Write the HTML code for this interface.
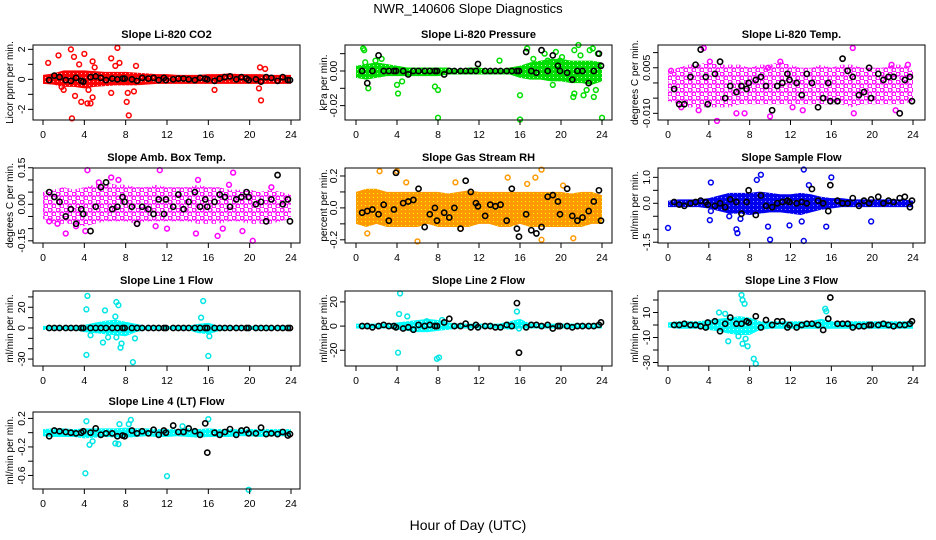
<!DOCTYPE html>
<html><head><meta charset="utf-8"><style>
html,body{margin:0;padding:0;background:#fff;width:936px;height:540px;overflow:hidden}
svg{display:block;font-family:"Liberation Sans",sans-serif}
</style></head><body>
<svg id="chart" width="936" height="540" viewBox="0 0 936 540" xmlns="http://www.w3.org/2000/svg">
<text x="468" y="13" text-anchor="middle" font-size="13">NWR_140606  Slope Diagnostics</text>
<text x="468" y="530" text-anchor="middle" font-size="14">Hour of Day (UTC)</text>
</svg>
<script>
const hours=[0,1,2,3,4,5,6,7,8,9,10,11,12,13,14,15,16,17,18,19,20,21,22,23,24];
const xTicks=[0,4,8,12,16,20,24];
const blackTimes=[0.6,1.1,1.6,2.2,2.7,3.2,3.7,3.9,4.6,5.1,5.6,6.1,6.7,7.2,7.7,7.9,8.6,9.1,9.6,10.2,10.7,11.2,11.7,11.9,12.6,13.1,13.6,14.1,14.7,15.2,15.7,15.9,16.6,17.1,17.6,18.1,18.7,19.2,19.7,19.9,20.6,21.1,21.6,22.1,22.7,23.2,23.7,23.9];

const co2Up=[0.3,0.4,0.6,0.6,0.6,0.55,0.5,0.5,0.5,0.45,0.4,0.35,0.35,0.3,0.3,0.3,0.35,0.35,0.4,0.35,0.35,0.35,0.3,0.3,0.3];
const co2Lo=[-0.3,-0.35,-0.5,-0.5,-0.6,-0.5,-0.45,-0.4,-0.4,-0.4,-0.35,-0.3,-0.3,-0.3,-0.3,-0.3,-0.3,-0.3,-0.3,-0.3,-0.3,-0.3,-0.3,-0.3,-0.3];
const co2OutX=[0.5,1.5,2.7,2.8,3.0,3.1,3.5,4.0,3.7,4.3,4.6,4.8,4.8,4.4,6.6,6.6,7.2,7.4,8.1,8.3,8.2,8.8,9.0,7.0,5.0,16.6,20.9,21.1,21.0,21.5,2.0,1.8];
const co2OutY=[1.1,1.6,2.0,-2.6,1.5,-1.1,1.0,1.7,-1.5,-1.6,-1.6,1.2,-1.2,-0.7,1.4,-0.9,2.1,1.1,-1.5,-2.4,-0.9,-0.8,0.9,0.9,0.8,-0.7,-0.6,-1.4,0.8,0.7,-0.7,-0.5];
const co2Black=[-0.05,0.25,0.15,-0.05,-0.1,0.1,-0.1,-0.15,0.15,0.2,0.1,-0.05,0.05,0.0,0.05,0.05,0.0,-0.1,0.1,0.05,0.1,-0.05,0.1,-0.05,0.0,0.05,0.05,0.0,-0.05,0.1,0.05,0.0,-0.1,0.05,0.15,0.2,0.0,0.15,0.05,-0.05,0.0,-0.15,0.15,0.1,-0.1,0.15,-0.05,-0.05];

const presUp=[0.003,0.004,0.005,0.004,0.003,0.002,0.002,0.002,0.002,0.002,0.001,0.002,0.002,0.001,0.001,0.002,0.003,0.005,0.006,0.007,0.007,0.006,0.006,0.006,0.005];
const presLo=[-0.004,-0.005,-0.004,-0.003,-0.003,-0.003,-0.003,-0.003,-0.003,-0.002,-0.002,-0.002,-0.002,-0.002,-0.002,-0.002,-0.004,-0.005,-0.005,-0.006,-0.006,-0.007,-0.007,-0.008,-0.006];
const presOutX=[0.7,0.8,0.9,1.2,1.9,2.5,4.0,4.1,4.5,8.0,7.7,8.0,14,16,16,16.7,17.3,18.7,19.5,19.9,21.2,21.3,21.3,21.7,21.9,22.2,22.5,22.8,23.1,23.2,23.4,23.6,24,19.2,20.1,18.4];
const presOutY=[0.013,0.012,0.005,-0.01,0.006,0.007,-0.008,-0.013,-0.006,-0.027,-0.009,-0.011,0.006,-0.014,-0.028,0.013,0.007,0.006,0.011,0.006,-0.015,-0.013,0.012,0.015,0.009,-0.014,-0.011,0.012,0.013,-0.015,-0.011,0.01,-0.027,-0.008,0.008,0.01];
const presBlack=[0,-0.007,0,0.009,0,0,0,0,0,-0.002,0,0,0,0,0,0,-0.002,0,0,0,0,0,0,0.004,0,0,0,0,0,0,0,0,0.011,0,-0.001,0.012,0,0.009,0.003,0,-0.001,-0.005,0,0,-0.007,0,0.010,0.003];

const tempUp=[0.004,0.005,0.006,0.006,0.007,0.006,0.006,0.006,0.005,0.006,0.006,0.007,0.006,0.005,0.005,0.006,0.005,0.006,0.006,0.005,0.005,0.005,0.006,0.006,0.004];
const tempLo=[-0.006,-0.007,-0.008,-0.008,-0.008,-0.008,-0.008,-0.007,-0.007,-0.007,-0.007,-0.007,-0.007,-0.007,-0.007,-0.007,-0.007,-0.007,-0.008,-0.007,-0.007,-0.007,-0.007,-0.007,-0.006];
const tempOutX=[3.5,4.8,9.8,10.0,11.0,18.1,18.2,6.7,7.5,3.0,12.2,13.2,22.3,21.9,0.3,23.5,4.1,1.3];
const tempOutY=[0.0115,-0.0125,0.005,-0.011,0.007,0.0115,-0.010,-0.010,-0.010,-0.009,-0.008,-0.009,-0.009,0.006,0.004,0.006,0.007,-0.008];
const tempBlack=[-0.002,-0.007,-0.007,0.002,0.006,0.011,0.002,-0.007,0.003,0.007,-0.005,-0.001,-0.003,-0.001,-0.002,0.0,0.001,0.002,-0.001,-0.009,-0.001,0.0,0.003,0.001,0.0,-0.004,0.003,0.0,-0.008,-0.005,0.0,-0.006,-0.006,0.008,0.004,0.002,-0.004,-0.003,0.005,-0.005,0.003,0.001,0.002,0.002,-0.010,0.001,0.002,-0.006];

const ambUp=[0.05,0.06,0.07,0.06,0.07,0.08,0.09,0.08,0.08,0.07,0.07,0.08,0.07,0.07,0.07,0.08,0.07,0.07,0.06,0.06,0.06,0.05,0.06,0.05,0.04];
const ambLo=[-0.06,-0.08,-0.08,-0.08,-0.09,-0.08,-0.07,-0.07,-0.07,-0.08,-0.07,-0.07,-0.07,-0.07,-0.07,-0.08,-0.08,-0.08,-0.07,-0.07,-0.08,-0.08,-0.08,-0.07,-0.06];
const ambOutX=[4.3,11.3,18.4,20.3,2.2,4.1,14.8,16.9,17.4,19.3,9.1,10.9,12.0,6.6,5.4,7.3,15.0,18.0,22.1,1.4,3.2,0.6];
const ambOutY=[0.14,0.14,0.13,-0.15,-0.12,-0.11,-0.12,-0.13,-0.1,-0.11,-0.08,-0.09,-0.1,0.11,0.09,0.1,0.1,0.08,0.07,-0.08,-0.09,-0.07];
const ambBlack=[0.05,0.03,0.01,-0.05,-0.02,-0.08,-0.02,-0.04,-0.11,-0.01,0.07,0.09,-0.02,-0.01,0.03,0.01,-0.01,-0.08,-0.01,-0.02,-0.04,0.02,-0.04,0.02,-0.01,0.04,-0.02,0.01,0.05,-0.01,0.02,-0.01,0.01,0.04,0.03,-0.01,0.02,0.03,0.05,0.03,0.0,0.01,-0.07,0.02,0.12,0.0,0.02,-0.07];

const rhUp=[0.1,0.12,0.12,0.1,0.1,0.1,0.1,0.1,0.1,0.09,0.1,0.11,0.1,0.1,0.1,0.1,0.1,0.1,0.1,0.1,0.1,0.09,0.1,0.1,0.08];
const rhLo=[-0.1,-0.12,-0.1,-0.12,-0.12,-0.12,-0.12,-0.1,-0.12,-0.12,-0.12,-0.12,-0.1,-0.1,-0.12,-0.12,-0.1,-0.12,-0.12,-0.12,-0.12,-0.12,-0.12,-0.1,-0.1];
const rhOutX=[2.3,4.0,6.0,1.1,14.8,17.5,18.1,16.7,9.7,10.2,18.1,21.2,20.2,4.9];
const rhOutY=[0.23,0.23,-0.21,-0.16,0.19,0.19,0.24,0.15,0.16,-0.13,-0.2,-0.19,0.14,0.16];
const rhBlack=[-0.03,-0.02,-0.01,-0.04,0.02,-0.08,-0.01,0.22,0.03,0.04,0.05,0.12,-0.12,-0.04,0.0,-0.08,-0.03,-0.06,0.0,-0.13,0.17,0.1,0.03,0.01,-0.05,0.02,0.01,0.02,-0.08,0.12,-0.13,-0.18,-0.04,-0.14,-0.16,-0.12,0.07,0.08,0.04,-0.04,0.12,-0.05,-0.08,-0.06,-0.02,0.04,0.11,-0.08];

const sfUp=[0.1,0.15,0.15,0.15,0.2,0.3,0.4,0.4,0.4,0.45,0.4,0.35,0.35,0.4,0.35,0.25,0.2,0.2,0.15,0.15,0.15,0.15,0.15,0.15,0.1];
const sfLo=[-0.15,-0.15,-0.15,-0.15,-0.2,-0.3,-0.4,-0.4,-0.45,-0.4,-0.35,-0.35,-0.4,-0.45,-0.35,-0.25,-0.2,-0.15,-0.15,-0.15,-0.15,-0.15,-0.15,-0.15,-0.15];
const sfOutX=[0.0,4.1,4.2,6.8,6.7,8.7,9.1,9.8,10.0,11.9,13.3,13.3,13.8,15.5,16.0,19.9,4.2,6.0,7.1,13.1];
const sfOutY=[-0.95,-0.65,0.8,-1.15,-1.0,0.9,1.1,-0.9,-1.4,-0.85,1.3,-1.45,0.7,-0.9,1.0,-0.7,-0.3,-0.5,-0.6,-0.7];
const sfBlack=[0.05,-0.05,-0.1,0.0,0.05,0.1,0.05,-0.05,-0.1,0.0,-0.15,0.15,0.05,-0.4,0.05,0.5,-0.45,0.3,-0.1,-0.15,0.0,0.05,0.1,0.05,0.0,0.05,0.0,0.55,0.1,0.0,-0.3,0.7,0.1,0.0,0.0,0.2,-0.1,0.1,0.0,0.15,0.25,0.0,0.1,0.05,0.2,0.25,-0.15,0.1];

const l1Up=[2,2,2,2,3,5,7,8,6,4,2,2,2,2,2,4,5,2,2,2,2,2,2,2,2];
const l1Lo=[-2,-2,-2,-2,-4,-5,-6,-7,-8,-4,-2,-2,-2,-2,-2,-5,-6,-3,-2,-2,-2,-2,-2,-2,-2];
const l1OutX=[4.3,4.2,4.2,4.6,5.8,6.0,7.1,7.3,7.1,6.3,7.5,7.6,8.7,8.9,15.5,16.0,16.1,15.3,7.0];
const l1OutY=[31,18,-26,-7,-14,17,25,22,-9,-9,-19,-15,-33,-10,26,-27,-8,10,11];
const l1Black=[0,0,0,0,0,0,0,0,0,0,0,0,0,0,0,0,0,0,0,0,0,0,0,0,0,0,0,0,0,0,0,0,0,0,0,0,0,0,0,0,0,0,0,0,0,0,0,0];

const l2Up=[2,2,2,2,3,4,5,6,5,3,2,2,2,2,2,4,6,2,2,2,2,2,2,2,2];
const l2Lo=[-2,-2,-2,-2,-3,-4,-5,-5,-4,-3,-2,-2,-2,-2,-2,-3,-2,-2,-2,-2,-2,-2,-2,-2,-2];
const l2OutX=[4.3,4.1,4.2,5.0,7.9,8.1,6.9,15.7,15.9,8.4];
const l2OutY=[27,-22,10,8,-27,-26,4,12,-2,5];
const l2Black=[0,0,-1,0,1,0,0,-1,-2,-1,-3,1,0,1,0,0,3,6,0,0,2,-1,1,-1,0,0,-1,-1,1,0,19,-22,-1,1,1,0,1,-2,0,0,0,-1,0,0,0,0,1,3];

const l3Up=[2,3,3,3,4,5,6,7,6,3,3,3,3,3,3,5,3,3,3,3,3,3,3,3,3];
const l3Lo=[-2,-3,-3,-3,-4,-5,-7,-8,-8,-4,-3,-3,-3,-3,-3,-3,-3,-3,-3,-3,-3,-3,-3,-3,-3];
const l3OutX=[5.0,5.9,6.9,7.2,7.3,7.5,7.6,7.8,8.4,8.6,15.4,15.5,7.3,5.6];
const l3OutY=[10,-13,-9,24,20,17,-11,-17,-27,-31,13,11,-15,9];
const l3Black=[0,0,1,0,0,-1,-2,2,3,-5,1,6,1,1,3,2,7,-2,4,0,3,3,-2,0,-2,0,1,1,0,-4,5,22,1,1,1,-2,-1,-1,0,0,0,1,0,-1,0,0,1,3];

const l4Up=[0.05,0.06,0.06,0.05,0.06,0.06,0.06,0.06,0.07,0.06,0.06,0.05,0.05,0.05,0.06,0.05,0.06,0.05,0.05,0.05,0.05,0.05,0.05,0.05,0.05];
const l4Lo=[-0.05,-0.06,-0.06,-0.06,-0.08,-0.07,-0.06,-0.07,-0.07,-0.06,-0.05,-0.06,-0.06,-0.05,-0.06,-0.07,-0.06,-0.06,-0.06,-0.05,-0.05,-0.06,-0.05,-0.05,-0.05];
const l4OutX=[4.1,4.2,4.5,4.8,7.0,7.3,7.4,8.5,8.3,12.0,13.5,16.0,19.9];
const l4OutY=[-0.57,0.16,-0.17,-0.12,-0.15,-0.16,0.12,0.18,0.12,-0.61,0.09,0.19,-0.8];
const l4Black=[-0.05,0.03,0.02,0.01,0.0,-0.01,0.0,0.02,0.0,0.06,-0.03,-0.01,-0.01,-0.05,-0.04,-0.05,0.03,-0.01,0.02,-0.01,0.04,-0.03,0.03,0.0,0.1,0.01,0.01,0.06,0.02,-0.03,0.13,-0.28,0.0,-0.03,0.01,0.05,-0.03,0.03,0.04,-0.01,-0.01,0.07,-0.02,-0.01,-0.02,0.01,-0.04,-0.02];

const NS="http://www.w3.org/2000/svg";
const svg=document.getElementById('chart');
function mk(tag,attrs,parent){const e=document.createElementNS(NS,tag);for(const k in attrs)e.setAttribute(k,attrs[k]);(parent||svg).appendChild(e);return e;}

const defs=mk('defs',{});
function pattern(id,bg,dot){const p=mk('pattern',{id:id,width:4,height:4,patternUnits:'userSpaceOnUse'},defs);mk('rect',{width:4,height:4,fill:bg},p);mk('rect',{x:1,y:1,width:1,height:1,fill:dot},p);}
function ringPattern(id,col,sz){const p=mk('pattern',{id:id,width:sz,height:sz,patternUnits:'userSpaceOnUse'},defs);
  mk('circle',{cx:sz/4,cy:sz/4,r:2,fill:'none',stroke:col,'stroke-width':1.4},p);
  mk('circle',{cx:sz*3/4,cy:sz*3/4,r:2,fill:'none',stroke:col,'stroke-width':1.4},p);}
pattern('pRed','#ff0000','#ffb0b0');pattern('pGreen','#00dd00','#b0ffb0');
ringPattern('pMag','#ff00ff',8);
pattern('pOrange','#ff9900','#ffff00');pattern('pBlue','#0000ee','#9090ff');pattern('pCyan','#00ffff','#c0ffff');

const cols=[{x0:33,x1:300,h0:43,h24:291,lab:8},{x0:345,x1:612,h0:356,h24:602,lab:322},{x0:658,x1:925,h0:668,h24:913,lab:633}];
const rows=[{y0:45,y1:120},{y0:168,y1:243},{y0:291,y1:366},{y0:412,y1:489}];

const panels=[
 {name:'co2',title:'Slope Li-820 CO2',ylab:'Licor ppm per min.',c:0,r:0,ymin:-2.71,ymax:2.29,ticks:[-2,-1,0,1,2],labs:['-2','','0','','2'],color:'#ff0000',pat:'pRed',up:co2Up,lo:co2Lo,ox:co2OutX,oy:co2OutY,bk:co2Black},
 {name:'pressure',title:'Slope Li-820 Pressure',ylab:'kPa per min.',c:1,r:0,ymin:-0.0283,ymax:0.015,ticks:[-0.02,-0.01,0,0.01],labs:['-0.02','','0.00',''],color:'#00dd00',pat:'pGreen',up:presUp,lo:presLo,ox:presOutX,oy:presOutY,bk:presBlack},
 {name:'temp',title:'Slope Li-820 Temp.',ylab:'degrees C per min.',c:2,r:0,ymin:-0.0122,ymax:0.0125,ticks:[-0.01,-0.005,0,0.005,0.01],labs:['-0.010','','','0.005',''],color:'#ff00ff',pat:'pMag',up:tempUp,lo:tempLo,ox:tempOutX,oy:tempOutY,bk:tempBlack},
 {name:'amb-box-temp',title:'Slope Amb. Box Temp.',ylab:'degrees C per min.',c:0,r:1,ymin:-0.159,ymax:0.149,ticks:[-0.15,-0.1,-0.05,0,0.05,0.1,0.15],labs:['-0.15','','','0.00','','','0.15'],color:'#ff00ff',pat:'pMag',up:ambUp,lo:ambLo,ox:ambOutX,oy:ambOutY,bk:ambBlack},
 {name:'gas-stream-rh',title:'Slope Gas Stream RH',ylab:'percent per min.',c:1,r:1,ymin:-0.22,ymax:0.25,ticks:[-0.2,-0.1,0,0.1,0.2],labs:['-0.2','','0.0','','0.2'],color:'#ff9900',pat:'pOrange',up:rhUp,lo:rhLo,ox:rhOutX,oy:rhOutY,bk:rhBlack},
 {name:'sample-flow',title:'Slope Sample Flow',ylab:'ml/min per min.',c:2,r:1,ymin:-1.53,ymax:1.36,ticks:[-1.5,-1,-0.5,0,0.5,1],labs:['-1.5','','','0.0','','1.0'],color:'#0000ee',pat:'pBlue',up:sfUp,lo:sfLo,ox:sfOutX,oy:sfOutY,bk:sfBlack},
 {name:'line-1-flow',title:'Slope Line 1 Flow',ylab:'ml/min per min.',c:0,r:2,ymin:-36.7,ymax:35.7,ticks:[-30,-20,-10,0,10,20,30],labs:['-30','','','0','','20',''],color:'#00e5e5',pat:'pCyan',up:l1Up,lo:l1Lo,ox:l1OutX,oy:l1OutY,bk:l1Black},
 {name:'line-2-flow',title:'Slope Line 2 Flow',ylab:'ml/min per min.',c:1,r:2,ymin:-33,ymax:29,ticks:[-20,0,20],labs:['-20','0','20'],color:'#00e5e5',pat:'pCyan',up:l2Up,lo:l2Lo,ox:l2OutX,oy:l2OutY,bk:l2Black},
 {name:'line-3-flow',title:'Slope Line 3 Flow',ylab:'ml/min per min.',c:2,r:2,ymin:-32.8,ymax:27.2,ticks:[-30,-20,-10,0,10,20],labs:['-30','','-10','','10',''],color:'#00e5e5',pat:'pCyan',up:l3Up,lo:l3Lo,ox:l3OutX,oy:l3OutY,bk:l3Black},
 {name:'line-4-flow',title:'Slope Line 4 (LT) Flow',ylab:'ml/min per min.',c:0,r:3,ymin:-0.79,ymax:0.29,ticks:[-0.6,-0.4,-0.2,0,0.2],labs:['-0.6','','-0.2','','0.2'],color:'#00e5e5',pat:'pCyan',up:l4Up,lo:l4Lo,ox:l4OutX,oy:l4OutY,bk:l4Black}
];

panels.forEach(p=>{
  const C=cols[p.c],R=rows[p.r];
  const sx=h=>C.h0+(h-0)*(C.h24-C.h0)/24;
  const sy=v=>R.y1-(v-p.ymin)*(R.y1-R.y0)/(p.ymax-p.ymin);
  const g=mk('g',{});
  
  
  const t=mk('text',{x:(C.x0+C.x1)/2,y:R.y0-7,'text-anchor':'middle','font-size':11,'font-weight':'bold'},g);
  t.textContent=p.title;
  
  
  const yl=mk('text',{x:0,y:0,transform:`translate(${C.lab+5},${(R.y0+R.y1)/2}) rotate(-90)`,'text-anchor':'middle','font-size':10},g);
  yl.textContent=p.ylab;
  
  
  let pts=hours.map((h,i)=>`${sx(h)},${sy(p.up[i])}`);
  pts=pts.concat(hours.slice().reverse().map((h,j)=>{const i=hours.length-1-j;return `${sx(h)},${sy(p.lo[i])}`;}));
  const band=mk('polygon',{points:pts.join(' '),fill:`url(#${p.pat})`,stroke:'none'},g);
  
  
  p.ox.forEach((x,i)=>{
    const c=mk('circle',{cx:sx(x),cy:sy(p.oy[i]),r:2.4,fill:'none',stroke:p.color,'stroke-width':1.5},g);
    
    
  });
  blackTimes.forEach((x,i)=>{
    const c=mk('circle',{cx:sx(x),cy:sy(p.bk[i]),r:2.6,fill:'none',stroke:'#000','stroke-width':1.6},g);
    
    
  });
  const box=mk('rect',{x:C.x0,y:R.y0,width:C.x1-C.x0,height:R.y1-R.y0,fill:'none',stroke:'#000','stroke-width':1},g);
  
  
  xTicks.forEach(h=>{
    mk('line',{x1:sx(h),x2:sx(h),y1:R.y1,y2:R.y1+5,stroke:'#000'},g);
    const l=mk('text',{x:sx(h),y:R.y1+18,'text-anchor':'middle','font-size':10.5},g);
    l.textContent=h;
    
    
  });
  p.ticks.forEach((v,i)=>{
    if(sy(v)<R.y0-0.5||sy(v)>R.y1+0.5)return;
    mk('line',{x1:C.x0-5,x2:C.x0,y1:sy(v),y2:sy(v),stroke:'#000'},g);
    if(p.labs[i]){
      const l=mk('text',{x:0,y:0,transform:`translate(${C.x0-8},${sy(v)}) rotate(-90)`,'text-anchor':'middle','font-size':10.5},g);
      l.textContent=p.labs[i];
      
      
    }
  });
});
</script>
</body></html>
